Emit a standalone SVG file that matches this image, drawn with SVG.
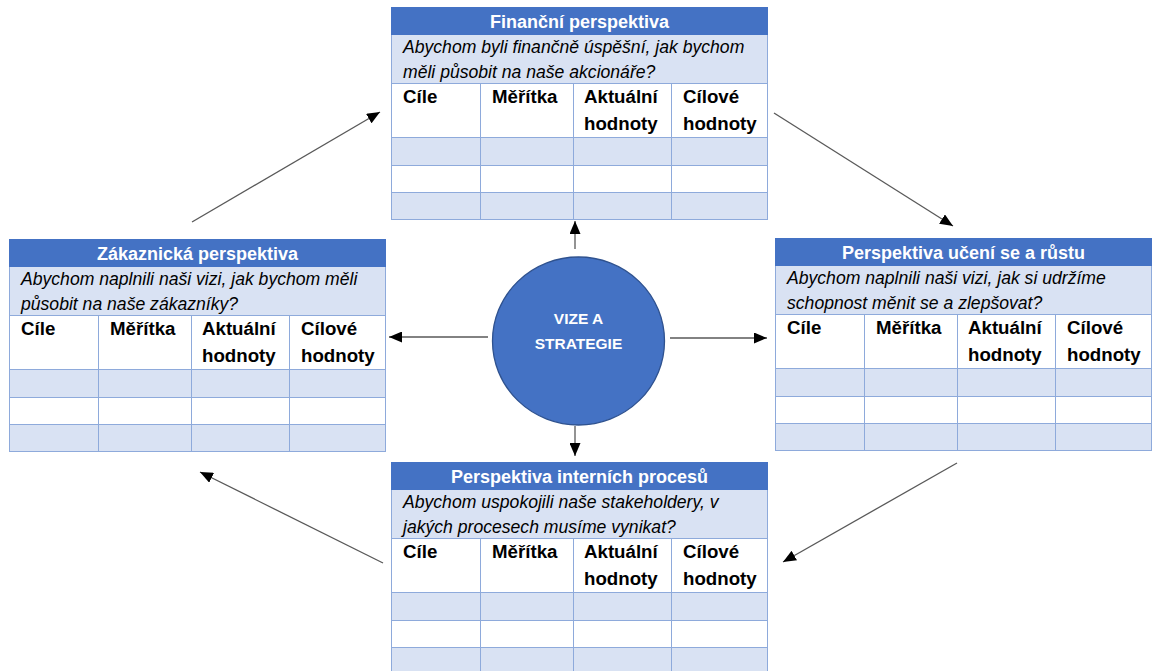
<svg xmlns="http://www.w3.org/2000/svg" xmlns:xlink="http://www.w3.org/1999/xlink" width="1155" height="671" viewBox="0 0 1155 671">
<style>
.title{font-family:"Liberation Sans",Arial,sans-serif;font-weight:bold;font-size:18px;fill:#ffffff;text-anchor:middle}
.q{font-family:"Liberation Sans",Arial,sans-serif;font-style:italic;font-size:17.6px;fill:#000000}
.h{font-family:"Liberation Sans",Arial,sans-serif;font-weight:bold;font-size:18.7px;fill:#000000}
.band{fill:#D9E2F3}
.bar{fill:#4472C4}
.line{stroke:#8EAADB;stroke-width:1;fill:none}
.conn{stroke:#595959;stroke-width:1.3;fill:none;marker-end:url(#arr)}
.ctext{font-family:"Liberation Sans",Arial,sans-serif;font-weight:bold;font-size:15.5px;fill:#ffffff;text-anchor:middle}
</style>
<defs>
<marker id="arr" markerUnits="userSpaceOnUse" markerWidth="13" markerHeight="11" refX="13" refY="5.5" orient="auto">
<path d="M0,0 L13,5.5 L0,11 z" fill="#000000"/>
</marker>
<g id="grid">
<rect x="0" y="0" width="377" height="213" fill="#ffffff"/>
<rect class="bar" x="0" y="0" width="377" height="28"/>
<rect class="band" x="0" y="28" width="377" height="48"/>
<rect class="band" x="0" y="130" width="377" height="28"/>
<rect class="band" x="0" y="185" width="377" height="28"/>
<path class="line" d="M0.5,28 V213 M376.5,28 V213 M0,76.5 H377 M0,130.5 H377 M0,158.5 H377 M0,185.5 H377 M0,212.5 H377 M89.5,76 V213 M182.5,76 V213 M280.5,76 V213"/>
<path d="M0.5,0.5 H376.5 V28 M0.5,0.5 V28" fill="none" stroke="#4472C4" stroke-width="1"/>
<text class="h" x="12" y="96">Cíle</text>
<text class="h" x="101" y="96">Měřítka</text>
<text class="h" x="193" y="96">Aktuální</text>
<text class="h" x="193" y="123">hodnoty</text>
<text class="h" x="292" y="96">Cílové</text>
<text class="h" x="292" y="123">hodnoty</text>
</g>
</defs>
<rect x="0" y="0" width="1155" height="671" fill="#ffffff"/>

<g id="connectors">
<line class="conn" x1="192" y1="222" x2="380" y2="112"/>
<line class="conn" x1="774" y1="113" x2="953" y2="226"/>
<line class="conn" x1="957" y1="463" x2="783" y2="562"/>
<line class="conn" x1="383" y1="563" x2="200" y2="472"/>
<line class="conn" x1="575" y1="249" x2="575" y2="221"/>
<line class="conn" x1="575" y1="426" x2="575" y2="456"/>
<line class="conn" x1="488" y1="337" x2="389" y2="337"/>
<line class="conn" x1="670" y1="338" x2="767" y2="338"/>
</g>

<g id="financni" transform="translate(391,7)">
<use href="#grid" xlink:href="#grid"/>
<text class="title" x="188.5" y="20.5">Finanční perspektiva</text>
<text class="q" x="12" y="46">Abychom byli finančně úspěšní, jak bychom</text>
<text class="q" x="12" y="71">měli působit na naše akcionáře?</text>
</g>

<g id="zakaznicka" transform="translate(9,239)">
<use href="#grid" xlink:href="#grid"/>
<text class="title" x="188.5" y="20.5">Zákaznická perspektiva</text>
<text class="q" x="12" y="46">Abychom naplnili naši vizi, jak bychom měli</text>
<text class="q" x="12" y="71">působit na naše zákazníky?</text>
</g>

<g id="uceni" transform="translate(775,238)">
<use href="#grid" xlink:href="#grid"/>
<text class="title" x="188.5" y="20.5">Perspektiva učení se a růstu</text>
<text class="q" x="12" y="46">Abychom naplnili naši vizi, jak si udržíme</text>
<text class="q" x="12" y="71">schopnost měnit se a zlepšovat?</text>
</g>

<g id="interni" transform="translate(391,462)">
<use href="#grid" xlink:href="#grid"/>
<text class="title" x="188.5" y="20.5">Perspektiva interních procesů</text>
<text class="q" x="12" y="46">Abychom uspokojili naše stakeholdery, v</text>
<text class="q" x="12" y="71">jakých procesech musíme vynikat?</text>
</g>

<g id="vize">
<ellipse cx="578.5" cy="341" rx="86" ry="84" fill="#4472C4" stroke="#2F528F" stroke-width="1.3"/>
<text class="ctext" x="578.5" y="324">VIZE A</text>
<text class="ctext" x="578.5" y="349">STRATEGIE</text>
</g>
</svg>
